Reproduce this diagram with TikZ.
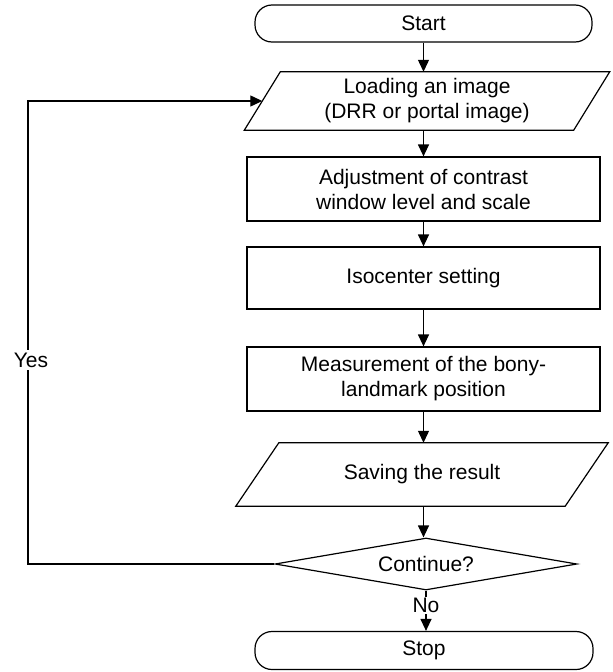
\documentclass[tikz,border=0pt]{standalone}
\usepackage{fontspec}
\setmainfont{Liberation Sans}
\usetikzlibrary{shapes.geometric,arrows.meta}

\begin{document}
\begin{tikzpicture}[x=1pt,y=-1pt,
  every node/.style={font=\fontsize{21}{25}\selectfont, inner sep=0pt},
  line/.style={line width=1.2pt},
  arr/.style={line, -{Triangle[length=12pt,width=11pt]}},
  terminal/.style={line, draw, rectangle, rounded corners=17pt},
  process/.style={line, draw, rectangle, minimum width=353pt},
  iobox/.style={rectangle, minimum width=329pt, align=center},
  decision/.style={line, draw, diamond, aspect=5.8, minimum width=302pt, minimum height=52pt}
]
\useasboundingbox (0,0) rectangle (613,672);

% terminals
\node[terminal, minimum width=337pt, minimum height=37pt] (start) at (423.5,23.5) {Start};
\node[terminal, minimum width=338pt, minimum height=38pt] (stop) at (424,650.5) {Stop};

% input / output boxes: node plus slanted outline
\node[iobox, minimum height=58pt] (load) at (427,101) {Loading an image\\(DRR or portal image)};
\draw[line] ([xshift=18pt]load.north west) -- ([xshift=18pt]load.north east)
  -- ([xshift=-18pt]load.south east) -- ([xshift=-18pt]load.south west) -- cycle;

\node[iobox, minimum height=63pt] (save) at (422,474.5) {Saving the result};
\draw[line] ([xshift=21.5pt]save.north west) -- ([xshift=21.5pt]save.north east)
  -- ([xshift=-21.5pt]save.south east) -- ([xshift=-21.5pt]save.south west) -- cycle;

% processes
\node[process, minimum height=64pt, align=center] (adj) at (423.5,189) {Adjustment of contrast\\window level and scale};
\node[process, minimum height=62pt] (iso) at (423.5,278) {Isocenter setting};
\node[process, minimum height=64pt, align=center] (meas) at (423.5,379) {Measurement of the bony-\\landmark position};

% decision
\node[decision] (cont) at (426,564) {Continue?};

% main flow
\draw[arr] (start.south) -- (start.south |- load.north);
\draw[arr] (adj.north |- load.south) -- (adj.north);
\draw[arr] (adj.south) -- (iso.north);
\draw[arr] (iso.south) -- (meas.north);
\draw[arr] (meas.south) -- (meas.south |- save.north);
\draw[arr] (meas.south |- save.south) -- (meas.south |- cont.north);
\draw[arr] (cont.south) -- (cont.south |- stop.north)
  node[pos=0.37, fill=white, inner sep=1pt] (no) {No};

% loop back
\coordinate (loopx) at (28,0);
\draw[arr] (cont.west) -- (cont.west -| loopx) -- (load.west -| loopx) -- (load.west);
\node[fill=white, inner ysep=3pt, inner xsep=1pt] (yes) at (31,360) {Yes};
\end{tikzpicture}
\end{document}
